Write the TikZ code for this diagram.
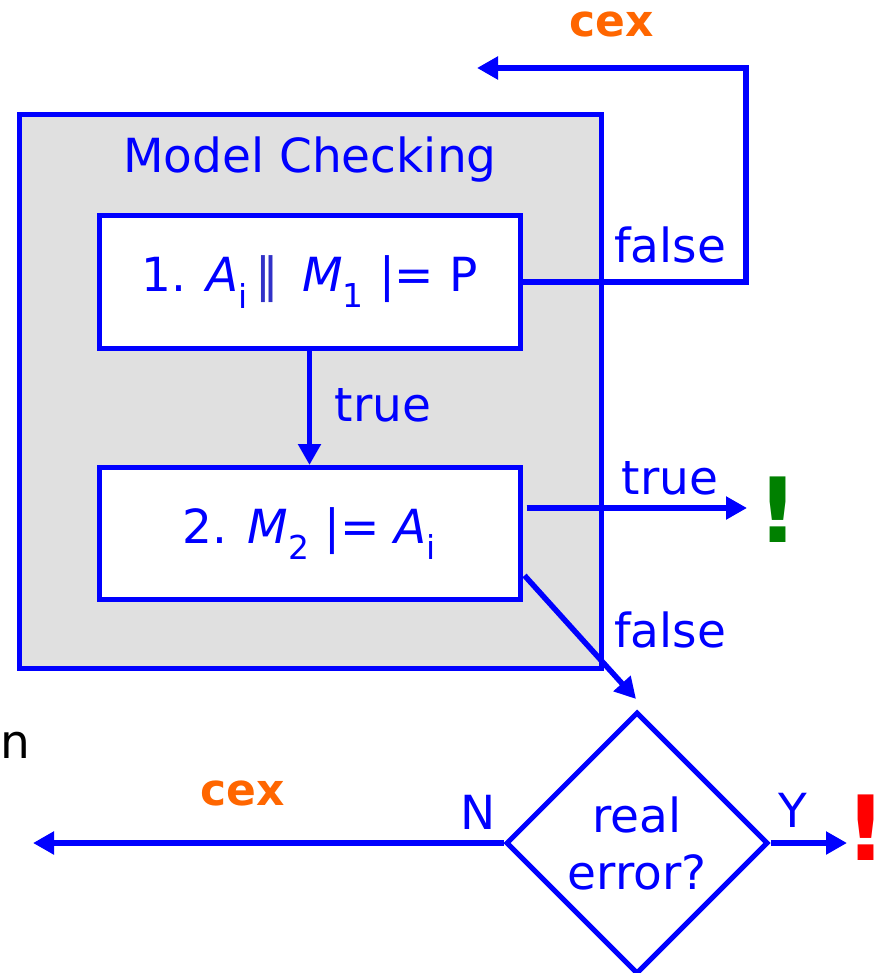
\documentclass[tikz,border=0pt]{standalone}
\usepackage{fontspec}
\setmainfont{DejaVu Sans}
\usetikzlibrary{arrows.meta,shapes.geometric}
\definecolor{mcblue}{RGB}{0,0,255}
\definecolor{bardark}{RGB}{50,50,200}
\definecolor{mcgray}{RGB}{224,224,224}
\definecolor{cexorange}{RGB}{255,102,0}
\definecolor{okgreen}{RGB}{0,128,0}
\definecolor{errred}{RGB}{255,0,0}
\begin{document}
\begin{tikzpicture}[x=1pt,y=-1pt,
  every node/.style={font=\fontsize{47}{57}\selectfont, text=mcblue, inner sep=0pt},
  panel/.style={draw=mcblue, line width=5pt, fill=mcgray},
  stepbox/.style={draw=mcblue, line width=5pt, fill=white, minimum width=421pt, minimum height=132pt},
  decision/.style={diamond, aspect=1, draw=mcblue, line width=5pt, fill=white, minimum size=262pt, align=center},
  conn/.style={draw=mcblue, line width=5.5pt, -{Triangle[length=21pt,width=22pt]}},
  cexlabel/.style={font=\fontsize{44}{50}\selectfont\bfseries, text=cexorange},
  bang/.style={font=\fontsize{90}{100}\selectfont\bfseries}
]
\useasboundingbox (0,0) rectangle (888,973);

% model checking panel with its two steps
\node[panel, minimum width=582pt, minimum height=553pt] (mc) at (310,391.5) {};
\node (title) at (310,160) {Model Checking};
\node[stepbox] (s1) at (309.5,282) {1. \textit{A}\textsubscript{i}\,\textcolor{bardark}{‖}\, \textit{M}\textsubscript{1} |= P};
\node[stepbox] (s2) at (309.5,533.5) {2. \textit{M}\textsubscript{2} |= \textit{A}\textsubscript{i}};

% decision diamond
\node[decision] (dec) at (637,843) {real\\error?};

% free ends and corners of the connectors
\coordinate (loopTR) at (746,68);
\coordinate (cexTop) at (477,68);
\coordinate (okEnd) at (747,508);
\coordinate (decIn) at (636,699);
\coordinate (cexLeft) at (33,843);
\coordinate (errEnd) at (847,843);

% connectors
\draw[conn] (s1.south) -- (s2.north);
\draw[conn] (s1.east) -| (loopTR) -- (cexTop);
\draw[conn] ([xshift=4pt,yshift=25.5pt]s2.east) -- (okEnd);
\draw[conn] ([xshift=2pt,yshift=-42pt]s2.east) -- (decIn);
\draw[conn] (dec.west) -- (cexLeft);
\draw[conn] (dec.east) -- (errEnd);

% labels
\node (lTrue1) at (383,405) {true};
\node (lFalse1) at (670,245) {false};
\node[cexlabel] (cex1) at (612,24) {cex};
\node (lTrue2) at (670,478) {true};
\node (lFalse2) at (670,630) {false};
\node[bang, text=okgreen] (ok) at (778,510) {!};
\node (lN) at (478,812) {N};
\node (lY) at (793,810) {Y};
\node[cexlabel] (cex2) at (243,793) {cex};
\node[bang, text=errred] (err) at (866,828) {!};
\node[text=black, anchor=west] (frag) at (0,745) {n};
\end{tikzpicture}
\end{document}
